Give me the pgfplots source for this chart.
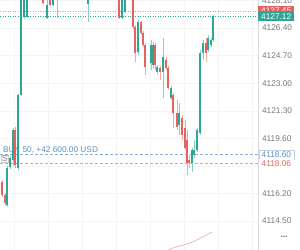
\documentclass[border=0pt]{standalone}
\usepackage{pgfplots}
\usepackage{pgfplotstable}
\pgfplotsset{compat=1.18}
\usepackage{fontspec}
\setmainfont{Liberation Sans}
\definecolor{cg}{HTML}{2FA596}
\definecolor{cr}{HTML}{E5625F}
\definecolor{cb}{HTML}{5A8FC0}
\definecolor{tk}{HTML}{777777}
\newcommand{\fsz}{\fontsize{8.3bp}{10bp}\selectfont}

\pgfplotstableread{
x o h l c
7 4115.49 4117.89 4115.37 4117.77
10 4117.83 4118.51 4117.71 4118.38
13 4118.26 4120.24 4117.89 4120.11
18 4117.77 4122.39 4117.64 4122.27
21 4122.27 4130.59 4122.21 4129.98
24 4127.08 4129.98 4126.95 4129.36
27 4127.08 4129.98 4127.02 4129.36
47 4127.02 4129.36 4126.95 4127.82
53 4127.82 4129.98 4127.76 4129.36
57 4128.43 4129.98 4127.02 4129.36
88 4127.88 4128.74 4126.77 4128.43
122 4127.02 4129.98 4126.95 4129.36
125 4127.39 4129.98 4127.32 4129.36
138 4124.92 4126.89 4124.74 4126.77
151 4124.24 4125.66 4123.81 4125.35
153 4124.12 4125.54 4123.93 4125.35
157 4123.69 4124.12 4123.56 4124.00
163 4123.69 4125.78 4122.08 4124.61
171 4122.08 4122.82 4121.96 4122.70
179 4120.42 4121.78 4119.80 4121.16
192 4118.08 4119.00 4117.52 4118.88
194 4118.57 4119.50 4118.38 4118.88
197 4118.88 4120.24 4118.76 4120.11
200 4119.93 4125.04 4119.80 4124.86
203 4124.86 4125.66 4124.43 4125.48
208 4125.04 4125.97 4124.92 4125.78
211 4125.35 4125.78 4125.23 4125.66
213 4125.66 4127.20 4125.54 4127.14
}\greentab

\pgfplotstableread{
x o h l c
2 4116.90 4117.03 4115.98 4116.10
5 4116.10 4116.23 4115.43 4115.61
15 4120.11 4120.30 4117.77 4117.95
43 4129.36 4129.98 4127.88 4127.94
50 4129.36 4129.98 4127.76 4127.82
119 4129.36 4129.98 4126.95 4127.02
133 4129.36 4129.98 4126.34 4126.46
135 4126.46 4126.59 4124.30 4124.86
141 4126.77 4126.83 4125.97 4126.09
143 4126.09 4126.21 4125.23 4125.35
145 4125.35 4125.48 4123.50 4124.00
155 4125.35 4125.48 4123.81 4124.12
160 4123.93 4124.06 4123.19 4123.69
166 4124.43 4124.61 4123.81 4123.93
168 4123.93 4124.06 4122.58 4122.70
173 4122.27 4122.39 4120.24 4121.16
177 4121.16 4121.96 4120.11 4120.30
182 4120.85 4121.04 4119.50 4119.80
185 4120.24 4120.73 4118.88 4119.00
187 4119.50 4120.11 4117.34 4118.08
189 4118.26 4118.57 4117.77 4118.08
206 4125.48 4125.78 4124.30 4124.86
}\redtab

\begin{document}
\begin{tikzpicture}
\begin{axis}[
  at={(0,0)}, anchor=south west,
  scale only axis, width=258bp, height=250bp,
  xmin=0, xmax=258, ymin=4112.71, ymax=4128.13,
  clip mode=individual,
  axis line style={draw=none},
  tick style={draw=none}, major tick length=0pt,
  xtick={14,48,82,116,150,184,218,252}, xticklabels={},
  ytick={4114.5,4116.2,4119.6,4121.3,4123.0,4124.7,4126.4,4128.1},
  extra y ticks={4117.9}, extra y tick labels={},
  yticklabel pos=right,
  y tick label style={font=\fsz, text=tk, anchor=west, xshift=0.5bp},
  /pgf/number format/.cd, fixed, fixed zerofill, precision=2, 1000 sep={}, assume math mode=true,
  /pgfplots/.cd,
  grid=major, major grid style={draw=gray!9, line width=0.4bp},
]
% order lines
\addplot[cr!70, line width=0.6bp, dash pattern=on 1bp off 1.5bp] coordinates {(0,4127.45) (258,4127.45)};
\addplot[cg, line width=0.6bp, dash pattern=on 1bp off 1.5bp] coordinates {(0,4127.12) (258,4127.12)};
\addplot[cb!70, line width=0.6bp, dash pattern=on 3bp off 2bp] coordinates {(0,4118.60) (258,4118.60)};
\addplot[gray!60, line width=0.6bp, dash pattern=on 3bp off 2bp] coordinates {(0,4118.06) (258,4118.06)};
% indicator curve
\addplot[cr!60, line width=0.6bp, smooth] coordinates {(165,4112.60) (173,4112.84) (190,4113.14) (203,4113.52) (212,4113.82)};

\node[anchor=west, text=cb, font=\fsz, inner sep=0pt] at (axis cs:3,4118.90) {BUY 50, +42 600.00 USD};
\node[anchor=west, text=gray, font=\fsz, inner sep=0.8bp, draw=gray!40, line width=0.4bp] at (axis cs:1,4118.33) {S};

% wicks
\addplot[draw=none, mark=none, forget plot, error bars/.cd, y dir=plus, y explicit, error mark=none,
  error bar style={line width=0.5bp, draw=cg!55}]
  table[x=x, y=l, y error plus expr=\thisrow{h}-\thisrow{l}] {\greentab};
\addplot[draw=none, mark=none, forget plot, error bars/.cd, y dir=plus, y explicit, error mark=none,
  error bar style={line width=0.5bp, draw=cr!55}]
  table[x=x, y=l, y error plus expr=\thisrow{h}-\thisrow{l}] {\redtab};
% bodies
\addplot[draw=none, mark=none, forget plot, error bars/.cd, y dir=plus, y explicit, error mark=none,
  error bar style={line width=1.7bp, draw=cg}]
  table[x=x, y=o, y error plus expr=\thisrow{c}-\thisrow{o}] {\greentab};
\addplot[draw=none, mark=none, forget plot, error bars/.cd, y dir=plus, y explicit, error mark=none,
  error bar style={line width=1.7bp, draw=cr}]
  table[x=x, y=c, y error plus expr=\thisrow{o}-\thisrow{c}] {\redtab};

\draw[gray!30, line width=0.6bp] (rel axis cs:1,0) -- (rel axis cs:1,1);

% price labels
\node[anchor=west, fill=cr, text=white, font=\fsz, inner xsep=3bp, inner ysep=0pt, minimum height=9.5bp] at (axis cs:258,4127.45) {4127.45};
\node[anchor=west, fill=cg, text=white, font=\fsz, inner xsep=3bp, inner ysep=0pt, minimum height=10bp] at (axis cs:258,4127.12) {4127.12};
\node[anchor=west, fill=white, draw=cb!40, line width=0.4bp, text=cb, font=\fsz, inner xsep=3bp, inner ysep=0pt, minimum height=9.5bp] at (axis cs:258.5,4118.60) {4118.60};
\node[anchor=west, fill=white, text=cr, font=\fsz, inner xsep=3bp, inner ysep=0pt, minimum height=9bp] at (axis cs:258.5,4118.06) {4118.06};
\node[text=tk!80!black, font=\fsz] at (axis cs:284,4113.50) {\textbf{...}};
\end{axis}
\pgfresetboundingbox
\path[use as bounding box] (0,0) rectangle (300bp,250bp);
\end{tikzpicture}
\end{document}
